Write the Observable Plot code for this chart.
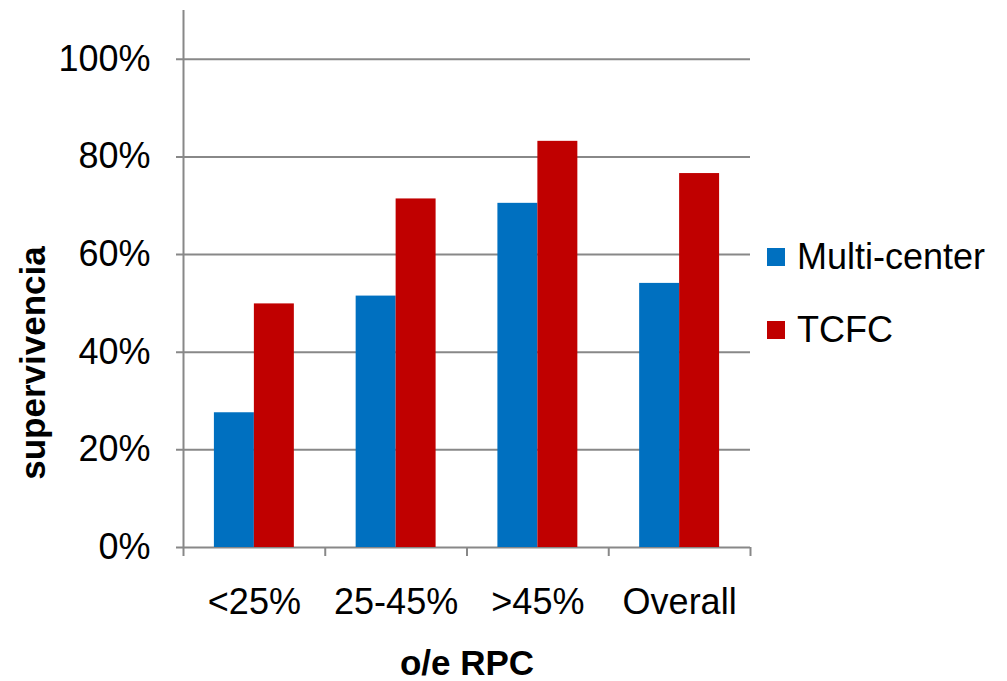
<!DOCTYPE html>
<html>
<head>
<meta charset="utf-8">
<script src="https://cdn.jsdelivr.net/npm/d3@7"></script>
<script src="https://cdn.jsdelivr.net/npm/@observablehq/plot@0.6"></script>
<style>
  html, body { margin: 0; padding: 0; background: #fff; }
  #wrap { position: relative; width: 1007px; height: 681px; font-family: "Liberation Sans", Arial, sans-serif; color: #000; }
  #wrap svg { position: absolute; left: 0; top: 0; }
  .ytitle { position: absolute; left: 33px; top: 363px; transform: translate(-50%, -50%) rotate(-90deg); font-weight: bold; font-size: 35px; white-space: nowrap; }
  .xtitle { position: absolute; left: 467px; top: 663px; transform: translate(-50%, -50%); font-weight: bold; font-size: 35px; white-space: nowrap; }
  .legend { position: absolute; left: 767px; top: 232px; font-size: 36px; }
  .item { display: flex; align-items: center; height: 50px; margin-bottom: 23px; }
  .sw { width: 18px; height: 18px; margin-right: 12px; }
</style>
</head>
<body>
<div id="wrap"></div>
<script>
// ---- data ----
const categories = ["<25%", "25-45%", ">45%", "Overall"];
const seriesNames = ["Multi-center", "TCFC"];
const multiCenter = [0.276, 0.515, 0.705, 0.541];
const tcfc = [0.499, 0.714, 0.832, 0.766];
const seriesColors = ["#0070C0", "#C00000"];
const yTicks = [0, 0.2, 0.4, 0.6, 0.8, 1.0];
const yAxisTitle = "supervivencia";
const xAxisTitle = "o/e RPC";

// ---- table built from arrays ----
const groupGap = 0.218; // fraction of each category band left empty on each side
const barFrac = (1 - 2 * groupGap) / 2;
const rows = [];
categories.forEach((c, i) => {
  [multiCenter, tcfc].forEach((vals, s) => {
    rows.push({
      category: c,
      series: seriesNames[s],
      value: vals[i],
      x1: i + groupGap + s * barFrac,
      x2: i + groupGap + (s + 1) * barFrac
    });
  });
});

const gray = "#888888";

const chart = Plot.plot({
  width: 1007,
  height: 681,
  marginLeft: 183,
  marginRight: 257,
  marginTop: 10,
  marginBottom: 134,
  style: "font-family: 'Liberation Sans', Arial, sans-serif; font-size: 36px; color: #000; background: #fff; overflow: visible;",
  x: { type: "linear", domain: [0, categories.length], axis: null },
  y: { domain: [0, 1.1], axis: null },
  color: { domain: seriesNames, range: seriesColors },
  marks: [
    Plot.gridY(yTicks, { stroke: gray, strokeOpacity: 1, strokeWidth: 2, insetLeft: -7 }),
    Plot.rectY(rows, { x1: "x1", x2: "x2", y1: 0, y2: "value", fill: "series" }),
    Plot.ruleX([0], { stroke: gray, strokeWidth: 2 }),
    Plot.axisX({ ticks: d3.range(categories.length + 1), tickSize: 9, tickFormat: () => "", stroke: gray, strokeWidth: 2, strokeOpacity: 1 }),
    Plot.axisX({ ticks: categories.map((c, i) => i + 0.5), tickSize: 0, tickPadding: 41, tickFormat: v => categories[Math.floor(v)], fontSize: 36, fill: "#000" }),
    Plot.axisY({ ticks: yTicks, tickSize: 0, tickPadding: 33, tickFormat: d3.format(".0%"), fontSize: 36, fill: "#000", label: null })
  ]
});

const wrap = document.getElementById("wrap");
wrap.appendChild(chart);

const yt = document.createElement("div");
yt.className = "ytitle"; yt.textContent = yAxisTitle; wrap.appendChild(yt);
const xt = document.createElement("div");
xt.className = "xtitle"; xt.textContent = xAxisTitle; wrap.appendChild(xt);

const leg = document.createElement("div");
leg.className = "legend";
seriesNames.forEach((n, i) => {
  const it = document.createElement("div");
  it.className = "item";
  const sw = document.createElement("div");
  sw.className = "sw"; sw.style.background = seriesColors[i];
  const tx = document.createElement("span");
  tx.textContent = n;
  it.appendChild(sw); it.appendChild(tx);
  leg.appendChild(it);
});
wrap.appendChild(leg);
</script>
</body>
</html>
